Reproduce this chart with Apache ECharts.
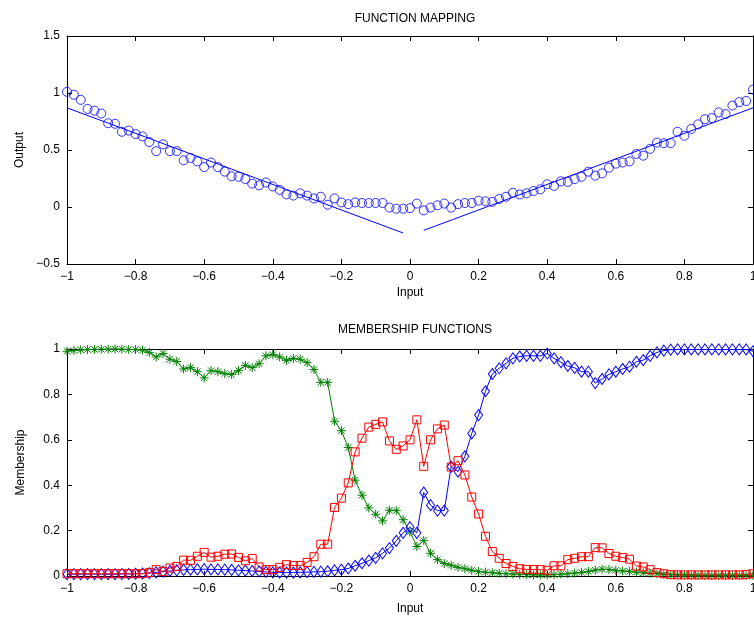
<!DOCTYPE html>
<html>
<head>
<meta charset="utf-8">
<title>Function mapping</title>
<script src="https://cdn.jsdelivr.net/npm/echarts@6/dist/echarts.min.js"></script>
<style>
  html, body { margin: 0; padding: 0; background: #fff; }
  #main { width: 754px; height: 618px; }
</style>
</head>
<body>
<div id="main"></div>
<script>
// inputs: -1 : 0.02 : 1
var xs = [];
for (var i = 0; i <= 100; i++) xs.push(Math.round((-1 + i * 0.02) * 100) / 100);

// top panel, measured outputs (circles)
var outputY = [
  1.01, 0.985, 0.94, 0.86, 0.845, 0.82, 0.735, 0.73, 0.66, 0.67,
  0.64, 0.62, 0.57, 0.49, 0.55, 0.49, 0.49, 0.41, 0.43, 0.40,
  0.35, 0.39, 0.35, 0.31, 0.27, 0.265, 0.245, 0.205, 0.19, 0.215,
  0.18, 0.15, 0.11, 0.10, 0.12, 0.10, 0.075, 0.09, 0.02, 0.075,
  0.04, 0.025, 0.04, 0.035, 0.035, 0.035, 0.035, -0.005, -0.015, -0.015,
  -0.01, 0.03, -0.03, -0.005, 0.015, 0.03, -0.005, 0.025, 0.035, 0.035,
  0.055, 0.05, 0.045, 0.07, 0.09, 0.125, 0.11, 0.12, 0.14, 0.155,
  0.20, 0.185, 0.225, 0.22, 0.245, 0.265, 0.31, 0.275, 0.295, 0.345,
  0.38, 0.39, 0.40, 0.465, 0.45, 0.51, 0.565, 0.56, 0.56, 0.66,
  0.625, 0.685, 0.725, 0.77, 0.78, 0.83, 0.815, 0.89, 0.92, 0.93,
  1.03
];
// fitted line, two pieces with a gap at zero
var fitLeft = [[-1, 0.87], [-0.02, -0.228]];
var fitRight = [[0.04, -0.205], [1, 0.87]];

// bottom panel, membership values
var memGreen = [
  0.990, 0.993, 0.996, 0.998, 0.998, 0.999, 0.999, 1.000, 0.999, 0.998,
  0.998, 0.995, 0.985, 0.965, 0.980, 0.955, 0.945, 0.912, 0.918, 0.900,
  0.873, 0.905, 0.900, 0.892, 0.888, 0.905, 0.928, 0.918, 0.935, 0.970,
  0.975, 0.965, 0.950, 0.958, 0.955, 0.940, 0.910, 0.853, 0.853, 0.682,
  0.640, 0.566, 0.422, 0.356, 0.300, 0.272, 0.243, 0.290, 0.288, 0.248,
  0.195, 0.130, 0.157, 0.100, 0.072, 0.055, 0.047, 0.038, 0.032, 0.025,
  0.020, 0.017, 0.014, 0.012, 0.010, 0.009, 0.007, 0.006, 0.005, 0.005,
  0.005, 0.006, 0.008, 0.010, 0.013, 0.016, 0.020, 0.026, 0.030, 0.028,
  0.025, 0.022, 0.020, 0.017, 0.014, 0.012, 0.010, 0.008, 0.006, 0.005,
  0.004, 0.003, 0.003, 0.002, 0.002, 0.002, 0.002, 0.002, 0.002, 0.002,
  0.002
];
var memRed = [
  0.010, 0.010, 0.010, 0.010, 0.010, 0.010, 0.010, 0.010, 0.010, 0.010,
  0.010, 0.010, 0.015, 0.028, 0.020, 0.035, 0.042, 0.070, 0.069, 0.087,
  0.104, 0.083, 0.087, 0.096, 0.097, 0.082, 0.067, 0.077, 0.040, 0.028,
  0.028, 0.038, 0.050, 0.046, 0.046, 0.060, 0.085, 0.140, 0.140, 0.302,
  0.343, 0.410, 0.547, 0.607, 0.656, 0.668, 0.679, 0.595, 0.558, 0.573,
  0.600, 0.688, 0.483, 0.600, 0.648, 0.665, 0.480, 0.508, 0.445, 0.348,
  0.273, 0.175, 0.108, 0.078, 0.055, 0.042, 0.032, 0.029, 0.029, 0.028,
  0.025, 0.045, 0.045, 0.072, 0.078, 0.085, 0.085, 0.125, 0.124, 0.099,
  0.087, 0.081, 0.074, 0.044, 0.040, 0.028, 0.015, 0.010, 0.006, 0.005,
  0.005, 0.005, 0.005, 0.005, 0.005, 0.005, 0.005, 0.005, 0.005, 0.006,
  0.010
];
var memBlue = [
  0.008, 0.008, 0.008, 0.008, 0.008, 0.008, 0.008, 0.008, 0.009, 0.009,
  0.010, 0.011, 0.013, 0.016, 0.019, 0.022, 0.025, 0.027, 0.028, 0.029,
  0.030, 0.029, 0.029, 0.028, 0.027, 0.025, 0.024, 0.022, 0.020, 0.018,
  0.016, 0.015, 0.015, 0.015, 0.016, 0.017, 0.018, 0.019, 0.021, 0.025,
  0.028, 0.033, 0.045, 0.056, 0.068, 0.080, 0.100, 0.123, 0.155, 0.190,
  0.215, 0.190, 0.368, 0.312, 0.288, 0.288, 0.482, 0.460, 0.527, 0.628,
  0.709, 0.814, 0.890, 0.915, 0.937, 0.959, 0.967, 0.970, 0.970, 0.970,
  0.980, 0.959, 0.942, 0.925, 0.917, 0.900, 0.900, 0.850, 0.868, 0.888,
  0.900, 0.912, 0.922, 0.944, 0.951, 0.970, 0.985, 0.993, 0.997, 0.998,
  0.998, 0.998, 0.998, 0.998, 0.998, 0.998, 0.998, 0.998, 0.998, 0.998,
  0.990
];

var xTicks = [-1, 1, 0.2];
var outTicks = [-0.5, 1.5, 0.5];
var memTicks = [0, 1, 0.2];

function pairs(ys) {
  return xs.map(function (x, i) { return [x, ys[i]]; });
}
function fmt(v) {
  var s = String(Math.round(v * 10) / 10);
  return s.replace('-', '\u2212');
}

var font = 'Liberation Sans';
var star = 'path://M0,-5L0,5M-5,0L5,0M-3.5,-3.5L3.5,3.5M-3.5,3.5L3.5,-3.5';

function xAx(grid, pos, name) {
  return {
    type: 'value', gridIndex: grid, position: pos,
    min: xTicks[0], max: xTicks[1], interval: xTicks[2],
    name: name, nameLocation: 'middle', nameGap: grid === 0 ? 23 : 27,
    nameTextStyle: { color: '#000', fontSize: 12, fontFamily: font },
    axisLine: { show: true, onZero: false, lineStyle: { color: '#000', width: 1 } },
    axisTick: { show: true, inside: true, length: 5, lineStyle: { color: '#000' } },
    axisLabel: { show: pos === 'bottom', color: '#000', fontSize: 12, fontFamily: font, margin: 7, formatter: fmt },
    splitLine: { show: false }
  };
}
function yAx(grid, pos, name, t) {
  return {
    type: 'value', gridIndex: grid, position: pos,
    min: t[0], max: t[1], interval: t[2],
    name: name, nameLocation: 'middle', nameGap: 40,
    nameTextStyle: { color: '#000', fontSize: 12, fontFamily: font },
    axisLine: { show: true, onZero: false, lineStyle: { color: '#000', width: 1 } },
    axisTick: { show: true, inside: true, length: 5, lineStyle: { color: '#000' } },
    axisLabel: { show: pos === 'left', color: '#000', fontSize: 12, fontFamily: font, margin: 7, formatter: fmt },
    splitLine: { show: false }
  };
}

function memSeries(ys, color, symbol, size) {
  return {
    type: 'line', xAxisIndex: 2, yAxisIndex: 2,
    data: pairs(ys), symbol: symbol, symbolSize: size, showAllSymbol: true,
    lineStyle: { color: color, width: 1 },
    itemStyle: { color: 'rgba(0,0,0,0)', borderColor: color, borderWidth: 1 },
    z: 3
  };
}

var chart = echarts.init(document.getElementById('main'), null, { renderer: 'canvas' });
chart.setOption({
  animation: false,
  backgroundColor: '#fff',
  title: [
    { text: 'FUNCTION MAPPING', left: 410, top: 8, textAlign: 'center',
      textStyle: { fontSize: 12, fontWeight: 'normal', color: '#000', fontFamily: font } },
    { text: 'MEMBERSHIP FUNCTIONS', left: 410, top: 319, textAlign: 'center',
      textStyle: { fontSize: 12, fontWeight: 'normal', color: '#000', fontFamily: font } }
  ],
  grid: [
    { left: 67, top: 36, width: 686, height: 228, outerBoundsMode: 'none' },
    { left: 67, top: 349, width: 686, height: 227, outerBoundsMode: 'none' }
  ],
  xAxis: [
    xAx(0, 'bottom', 'Input'), xAx(0, 'top', ''),
    xAx(1, 'bottom', 'Input'), xAx(1, 'top', '')
  ],
  yAxis: [
    yAx(0, 'left', 'Output', outTicks), yAx(0, 'right', '', outTicks),
    yAx(1, 'left', 'Membership', memTicks), yAx(1, 'right', '', memTicks)
  ],
  series: [
    { type: 'scatter', xAxisIndex: 0, yAxisIndex: 0, data: pairs(outputY),
      symbol: 'circle', symbolSize: 9,
      itemStyle: { color: 'rgba(0,0,0,0)', borderColor: '#0000ff', borderWidth: 1 } },
    { type: 'line', xAxisIndex: 0, yAxisIndex: 0, data: fitLeft, symbol: 'none',
      lineStyle: { color: '#0000ff', width: 1 } },
    { type: 'line', xAxisIndex: 0, yAxisIndex: 0, data: fitRight, symbol: 'none',
      lineStyle: { color: '#0000ff', width: 1 } },
    memSeries(memGreen, '#008000', star, 9),
    memSeries(memBlue, '#0000ff', 'diamond', [8, 11]),
    memSeries(memRed, '#ff0000', 'rect', 8)
  ]
});
</script>
</body>
</html>
